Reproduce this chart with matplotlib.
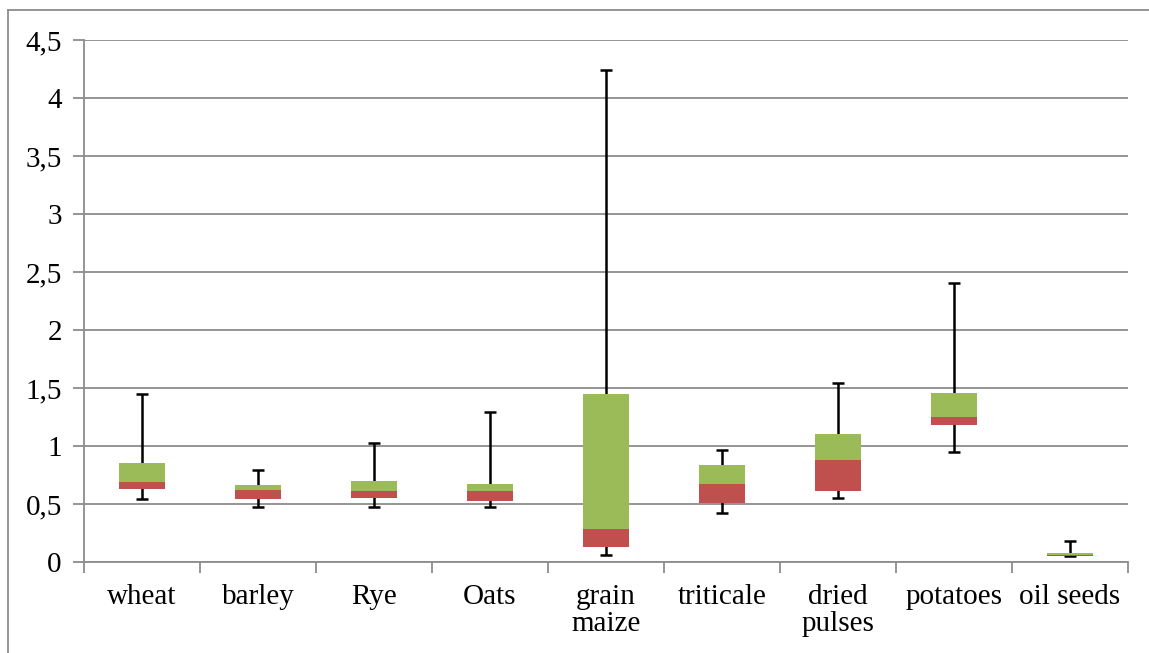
from matplotlib import pyplot as plt
from matplotlib.lines import Line2D
from matplotlib.ticker import FuncFormatter, MultipleLocator
import numpy as np

# box-plot style stacked bars (Excel look)
crops = ["wheat", "barley", "Rye", "Oats", "grain\nmaize", "triticale",
         "dried\npulses", "potatoes", "oil seeds"]
mins = [0.54, 0.477, 0.477, 0.475, 0.058, 0.422, 0.55, 0.945, 0.052]
q1 = [0.63, 0.545, 0.55, 0.53, 0.127, 0.506, 0.61, 1.18, 0.056]
medians = [0.69, 0.62, 0.615, 0.61, 0.285, 0.675, 0.88, 1.253, 0.064]
q3 = [0.85, 0.66, 0.70, 0.67, 1.45, 0.833, 1.10, 1.457, 0.079]
maxs = [1.448, 0.79, 1.03, 1.29, 4.24, 0.965, 1.54, 2.405, 0.184]

red = "#C0504D"
green = "#9BBB59"
grid_col = "#8C8C8C"

plt.rcParams['font.family'] = ['Liberation Serif', 'DejaVu Serif']

fig = plt.figure(figsize=(11.49, 6.53), dpi=100)
ax = fig.add_axes([84/1149, 91/653, 1044/1149, 522/653])

x = np.arange(len(crops))
w = 0.4

# whiskers
ax.vlines(x, mins, maxs, color="black", lw=1.8, zorder=2)
ax.hlines(mins, x - 0.055, x + 0.055, color="black", lw=1.8, zorder=2)
ax.hlines(maxs, x - 0.055, x + 0.055, color="black", lw=1.8, zorder=2)

lower = np.array(medians) - np.array(q1)
upper = np.array(q3) - np.array(medians)
ax.bar(x, lower, w, bottom=q1, color=red, linewidth=0, zorder=3)
ax.bar(x, upper, w, bottom=medians, color=green, linewidth=0, zorder=3)

ax.set_xlim(-0.5, len(crops) - 0.5)
ax.set_ylim(0, 4.5)
ax.yaxis.set_major_locator(MultipleLocator(0.5))
ax.yaxis.set_major_formatter(FuncFormatter(lambda v, p: ("%g" % v).replace(".", ",")))
ax.grid(axis="y", color=grid_col, lw=1.3, zorder=0)
ax.set_axisbelow(True)

ax.set_xticks(x)
ax.set_xticklabels(crops, fontsize=21, linespacing=1.05)
ax.set_xticks(np.arange(len(crops) + 1) - 0.5, minor=True)
ax.tick_params(axis="x", which="major", length=0, pad=16)
ax.tick_params(axis="x", which="minor", length=8, width=1.3, color=grid_col)
ax.tick_params(axis="y", labelsize=21, length=8, width=1.3, color=grid_col, pad=8)

for s in ["top", "right"]:
    ax.spines[s].set_visible(False)
for s in ["left", "bottom"]:
    ax.spines[s].set_color(grid_col)
    ax.spines[s].set_linewidth(1.3)

# outer chart frame
fig.add_artist(Line2D([8/1149, 8/1149], [0, 1 - 10/653], color=grid_col, lw=1.3, transform=fig.transFigure))
fig.add_artist(Line2D([8/1149, 1], [1 - 10/653, 1 - 10/653], color=grid_col, lw=1.3, transform=fig.transFigure))

fig.savefig("out.png", dpi=100)
